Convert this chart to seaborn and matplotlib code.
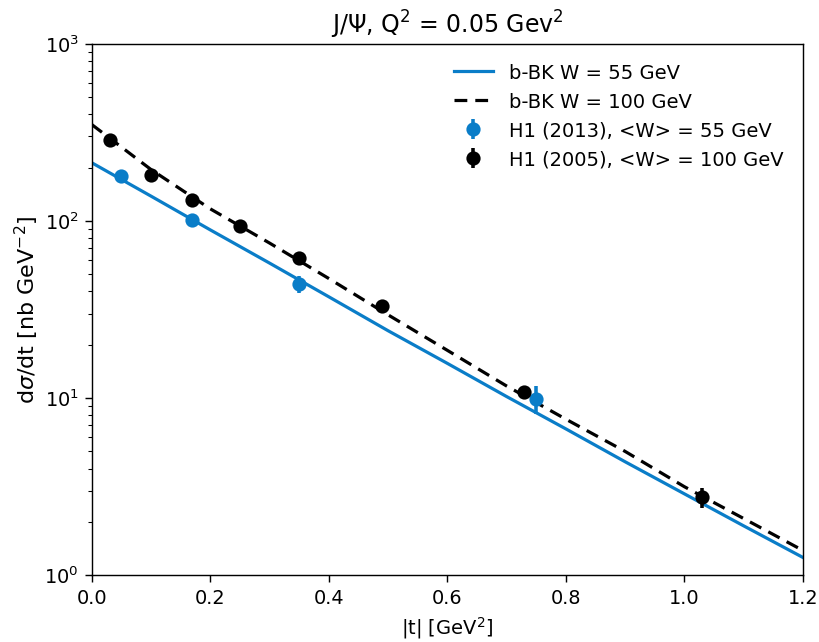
import numpy as np
import pandas as pd
import matplotlib
matplotlib.use("Agg")
import matplotlib.pyplot as plt
import seaborn as sns

# model curves
t_curve = [0.0, 0.1, 0.2, 0.3, 0.4, 0.5, 0.6, 0.7, 0.8, 0.9, 1.0, 1.1, 1.2]
bk_55 = [213, 138, 89, 57.8, 37.3, 24.0, 15.7, 10.2, 6.7, 4.37, 2.88, 1.9, 1.26]
bk_100 = [350, 195, 117, 75, 47.3, 29.5, 18.6, 11.7, 7.6, 5.0, 3.16, 2.09, 1.38]

# data
t_h1_2013 = [0.05, 0.17, 0.35, 0.75]
h1_2013 = [180, 101, 44, 9.9]
h1_2013_err = [6, 5, 5, 1.8]

t_h1_2005 = [0.03, 0.10, 0.17, 0.25, 0.35, 0.49, 0.73, 1.03]
h1_2005 = [287, 182, 131, 94, 62, 33, 10.8, 2.76]
h1_2005_err = [15, 10, 7, 5, 3.5, 2, 0.7, 0.35]

blue = "#0a7dc8"

plt.rcdefaults()
plt.rcParams.update({
    "xtick.labelsize": 10.8,
    "ytick.labelsize": 10.8,
    "axes.labelsize": 11,
    "legend.fontsize": 11,
    "axes.titlesize": 13.3,
    "xtick.major.size": 3.8,
    "ytick.major.size": 3.8,
    "ytick.minor.size": 2.2,
})
fig = plt.figure(figsize=(6.4, 5.02), dpi=128)
ax = fig.add_axes([0.112, 0.104, 0.868, 0.827])

df = pd.DataFrame({"t": t_curve + t_curve,
                   "y": bk_55 + bk_100,
                   "model": ["b-BK W = 55 GeV"] * len(t_curve) + ["b-BK W = 100 GeV"] * len(t_curve)})
sns.lineplot(data=df[df.model == "b-BK W = 55 GeV"], x="t", y="y", color=blue, lw=1.8,
             label="b-BK W = 55 GeV", ax=ax)
sns.lineplot(data=df[df.model == "b-BK W = 100 GeV"], x="t", y="y", color="black", lw=1.8,
             linestyle=(0, (4, 2.5)), label="b-BK W = 100 GeV", ax=ax)

ax.errorbar(t_h1_2013, h1_2013, yerr=h1_2013_err, fmt="o", color=blue, ms=7, elinewidth=2,
            label="H1 (2013), <W> = 55 GeV")
ax.errorbar(t_h1_2005, h1_2005, yerr=h1_2005_err, fmt="o", color="black", ms=7, elinewidth=2,
            label="H1 (2005), <W> = 100 GeV")

ax.set_yscale("log")
ax.set_xlim(0, 1.2)
ax.set_ylim(1, 1000)
ax.set_xlabel("|t| [GeV$^2$]")
ax.set_ylabel(r"d$\sigma$/dt [nb GeV$^{-2}$]", fontsize=12.5, labelpad=2)
ax.set_title("J/Ψ, Q$^2$ = 0.05 Gev$^2$")
ax.legend(frameon=False, loc="upper right", borderaxespad=0.6)
fig.savefig("out.png", dpi=128)
